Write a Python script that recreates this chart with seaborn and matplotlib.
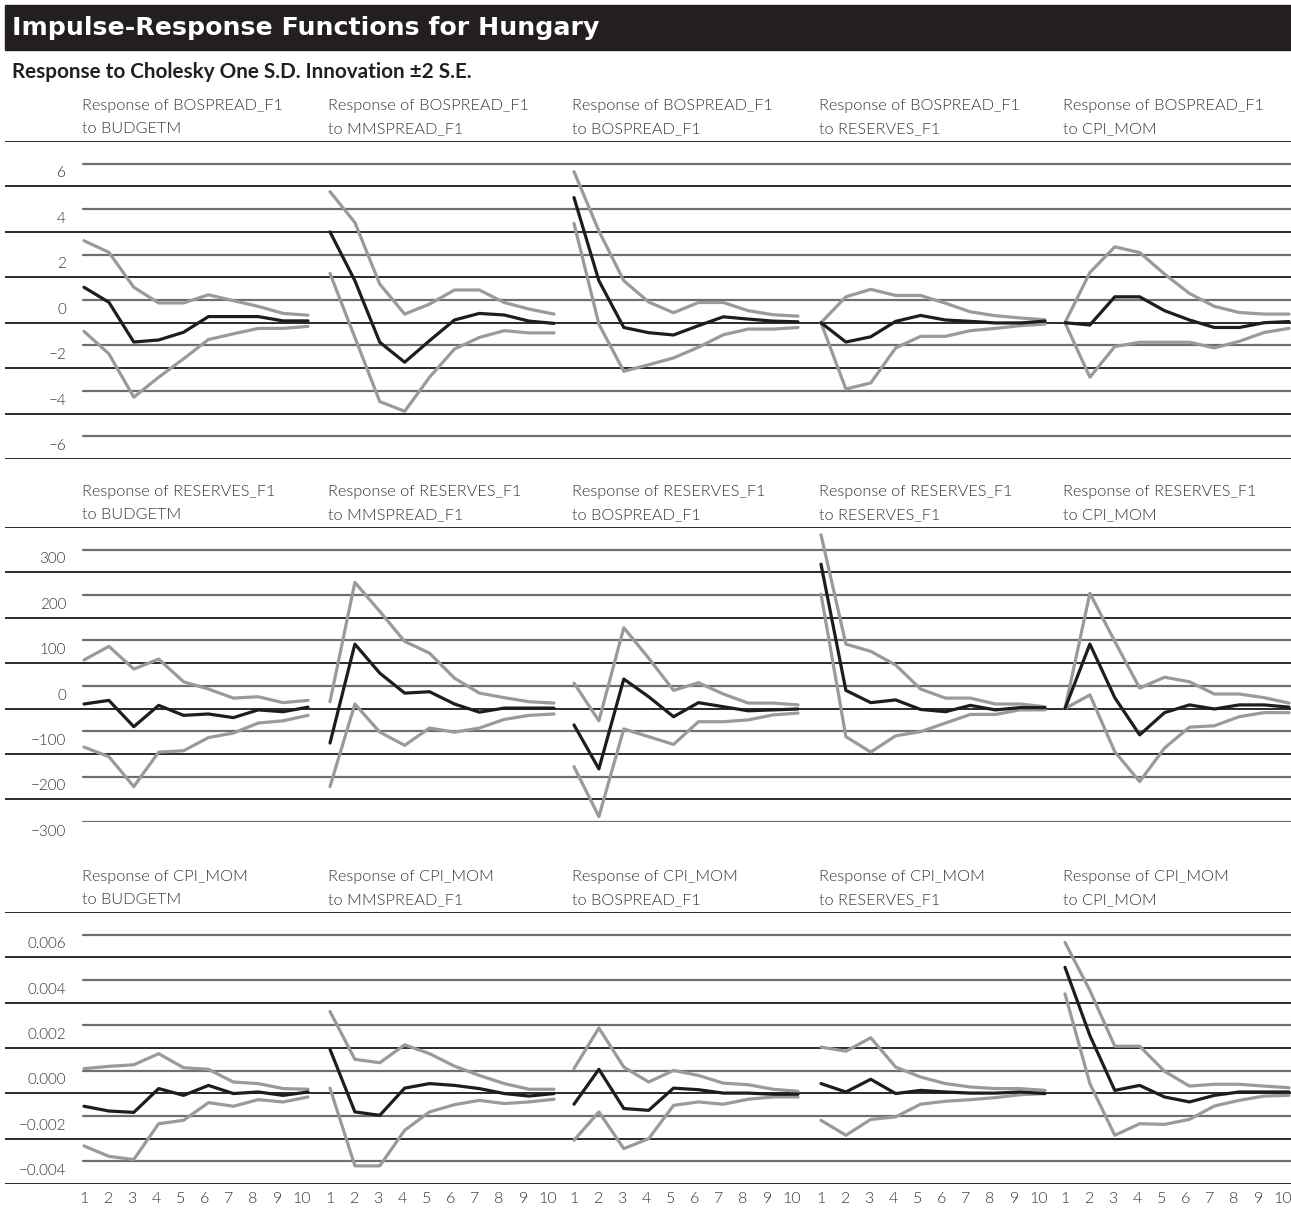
import numpy as np
import pandas as pd
import seaborn as sns
import matplotlib
matplotlib.use("Agg")
import matplotlib.pyplot as plt
from matplotlib.patches import Rectangle
from matplotlib.transforms import blended_transform_factory, offset_copy

# ---------------------------------------------------------------- data
periods = list(range(1, 11))
shocks = ["BUDGETM", "MMSPREAD_F1", "BOSPREAD_F1", "RESERVES_F1", "CPI_MOM"]
responses = ["BOSPREAD_F1", "RESERVES_F1", "CPI_MOM"]

# Response of BOSPREAD_F1
bos_bud = [1.56, 0.90, -0.85, -0.76, -0.42, 0.27, 0.27, 0.27, 0.08, 0.08]
bos_bud_up = [3.61, 3.10, 1.56, 0.87, 0.87, 1.23, 0.97, 0.72, 0.41, 0.33]
bos_bud_lo = [-0.38, -1.37, -3.28, -2.40, -1.59, -0.74, -0.49, -0.25, -0.25, -0.16]
bos_mms = [4.00, 1.85, -0.86, -1.74, -0.79, 0.12, 0.41, 0.34, 0.07, -0.03]
bos_mms_up = [5.77, 4.41, 1.70, 0.38, 0.82, 1.44, 1.44, 0.89, 0.60, 0.38]
bos_mms_lo = [2.17, -0.65, -3.47, -3.90, -2.40, -1.16, -0.65, -0.35, -0.45, -0.45]
bos_bos = [5.51, 1.85, -0.21, -0.44, -0.54, -0.13, 0.26, 0.16, 0.07, 0.04]
bos_bos_up = [6.65, 4.04, 1.85, 0.91, 0.44, 0.89, 0.89, 0.53, 0.35, 0.29]
bos_bos_lo = [4.37, -0.06, -2.14, -1.85, -1.55, -1.08, -0.53, -0.28, -0.28, -0.21]
bos_res = [0.0, -0.85, -0.62, 0.06, 0.32, 0.12, 0.06, -0.01, -0.01, 0.07]
bos_res_up = [0.0, 1.14, 1.47, 1.20, 1.20, 0.86, 0.48, 0.31, 0.21, 0.13]
bos_res_lo = [0.0, -2.92, -2.65, -1.11, -0.60, -0.60, -0.35, -0.25, -0.13, -0.06]
bos_cpi = [0.0, -0.10, 1.14, 1.14, 0.53, 0.12, -0.21, -0.21, 0.0, 0.05]
bos_cpi_up = [0.0, 2.21, 3.34, 3.09, 2.14, 1.29, 0.72, 0.45, 0.38, 0.38]
bos_cpi_lo = [0.0, -2.40, -1.05, -0.86, -0.86, -0.86, -1.11, -0.82, -0.43, -0.25]

# Response of RESERVES_F1
res_bud = [10, 18, -40, 7, -15, -12, -20, -3, -7, 3]
res_bud_up = [107, 137, 87, 109, 59, 43, 23, 26, 13, 18]
res_bud_lo = [-85, -106, -172, -96, -93, -64, -54, -32, -27, -15]
res_mms = [-76, 142, 78, 34, 37, 10, -8, 1, 1, 1]
res_mms_up = [15, 278, 214, 148, 122, 67, 34, 24, 15, 12]
res_mms_lo = [-172, 10, -52, -81, -43, -52, -43, -24, -15, -12]
res_bos = [-36, -133, 65, 26, -18, 13, 4, -5, -3, -1]
res_bos_up = [56, -27, 178, 111, 40, 57, 32, 12, 12, 8]
res_bos_lo = [-128, -238, -45, -62, -79, -29, -29, -25, -14, -10]
res_res = [318, 40, 13, 19, -2, -7, 7, -3, 2, 2]
res_res_up = [383, 142, 126, 96, 43, 23, 23, 10, 10, 4]
res_res_lo = [252, -62, -96, -60, -51, -32, -13, -13, -3, -3]
res_cpi = [0, 142, 24, -58, -9, 8, -1, 8, 8, 3]
res_cpi_up = [0, 254, 148, 45, 69, 59, 32, 32, 24, 12]
res_cpi_lo = [0, 30, -95, -161, -87, -41, -38, -18, -9, -9]

# Response of CPI_MOM
cpi_bud = [-0.00057, -0.00078, -0.00084, 0.00021, -0.00009, 0.00035, -0.00001, 0.00006, -0.00009, 0.00006]
cpi_bud_up = [0.00109, 0.00119, 0.00126, 0.00175, 0.00113, 0.00106, 0.00050, 0.00043, 0.00021, 0.00018]
cpi_bud_lo = [-0.00232, -0.00278, -0.00292, -0.00134, -0.00119, -0.00041, -0.00057, -0.00028, -0.00038, -0.00016]
cpi_mms = [0.00194, -0.00082, -0.00097, 0.00023, 0.00043, 0.00035, 0.00021, -0.00001, -0.00012, -0.00001]
cpi_mms_up = [0.00361, 0.00150, 0.00135, 0.00214, 0.00175, 0.00120, 0.00079, 0.00043, 0.00018, 0.00018]
cpi_mms_lo = [0.00023, -0.00320, -0.00320, -0.00163, -0.00082, -0.00050, -0.00031, -0.00045, -0.00038, -0.00026]
cpi_bos = [-0.00048, 0.00106, -0.00067, -0.00075, 0.00023, 0.00016, 0.00001, 0.00001, -0.00004, -0.00004]
cpi_bos_up = [0.00109, 0.00288, 0.00116, 0.00050, 0.00101, 0.00079, 0.00045, 0.00038, 0.00018, 0.00009]
cpi_bos_lo = [-0.00207, -0.00082, -0.00244, -0.00200, -0.00053, -0.00038, -0.00048, -0.00026, -0.00016, -0.00016]
cpi_res = [0.00043, 0.00006, 0.00062, -0.00001, 0.00013, 0.00006, 0.00001, 0.00001, 0.00006, -0.00001]
cpi_res_up = [0.00204, 0.00186, 0.00245, 0.00116, 0.00072, 0.00043, 0.00028, 0.00021, 0.00021, 0.00013]
cpi_res_lo = [-0.00119, -0.00185, -0.00115, -0.00104, -0.00048, -0.00035, -0.00028, -0.00019, -0.00006, -0.00001]
cpi_cpi = [0.00556, 0.00255, 0.00013, 0.00035, -0.00016, -0.00038, -0.00009, 0.00006, 0.00006, 0.00006]
cpi_cpi_up = [0.00666, 0.00454, 0.00208, 0.00208, 0.00097, 0.00032, 0.00040, 0.00040, 0.00032, 0.00025]
cpi_cpi_lo = [0.00439, 0.00043, -0.00185, -0.00134, -0.00137, -0.00115, -0.00056, -0.00031, -0.00012, -0.00009]

# axis ranges, gridline step and labelled values per response row
row_limits = [(-6, 8), (-250, 400), (-0.004, 0.008)]
row_steps = [1, 50, 0.001]
row_labels = [
    ["6", "4", "2", "0", "\u22122", "\u22124", "\u22126"],
    ["300", "200", "100", "0", "\u2212100", "\u2212200", "\u2212300"],
    ["0.006", "0.004", "0.002", "0.000", "\u22120.002", "\u22120.004"],
]
row_label_values = [
    [6, 4, 2, 0, -2, -4, -6],
    [300, 200, 100, 0, -100, -200, -300],
    [0.006, 0.004, 0.002, 0.0, -0.002, -0.004],
]

table = [
    [(bos_bud, bos_bud_up, bos_bud_lo), (bos_mms, bos_mms_up, bos_mms_lo),
     (bos_bos, bos_bos_up, bos_bos_lo), (bos_res, bos_res_up, bos_res_lo),
     (bos_cpi, bos_cpi_up, bos_cpi_lo)],
    [(res_bud, res_bud_up, res_bud_lo), (res_mms, res_mms_up, res_mms_lo),
     (res_bos, res_bos_up, res_bos_lo), (res_res, res_res_up, res_res_lo),
     (res_cpi, res_cpi_up, res_cpi_lo)],
    [(cpi_bud, cpi_bud_up, cpi_bud_lo), (cpi_mms, cpi_mms_up, cpi_mms_lo),
     (cpi_bos, cpi_bos_up, cpi_bos_lo), (cpi_res, cpi_res_up, cpi_res_lo),
     (cpi_cpi, cpi_cpi_up, cpi_cpi_lo)],
]

# ---------------------------------------------------------------- style
sns.set_style("white")
plt.rcParams["font.family"] = ["Lato", "DejaVu Sans"]
TEXT = "#333333"
LIGHT = 300

W, H = 1291, 1211
fig = plt.figure(figsize=(W / 100, H / 100), dpi=100)


def fx(px):
    return px / W


def fy(py):
    return 1 - py / H


# title bar
fig.patches.append(Rectangle((fx(5), fy(50)), fx(1286), 45 / H,
                             transform=fig.transFigure, color="#231f20", zorder=0))
fig.text(fx(12), fy(28), "Impulse-Response Functions for Hungary", color="white",
         fontsize=18.2, fontweight="bold", va="center", ha="left",
         family=["DejaVu Sans"])
fig.text(fx(12), fy(72), "Response to Cholesky One S.D. Innovation \u00b12 S.E.",
         color="#231f20", fontsize=14.9, fontweight="bold", va="center", ha="left")

panel_left = [84, 330, 574, 821, 1065]
panel_width = 224
row_top = [141, 527, 912]
row_bottom = [459, 822, 1184]
# tick labels run on a slightly tighter spacing than the plotted periods
tick_spread = 0.97

for r in range(3):
    top, bot = row_top[r], row_bottom[r]
    lo_lim, hi_lim = row_limits[r]
    step = row_steps[r]

    # background band with the horizontal rules running across the row
    bg = fig.add_axes([fx(5), fy(bot), fx(1286), (bot - top) / H], zorder=0)
    bg.set_ylim(lo_lim, hi_lim)
    bg.set_xlim(0, 1)
    bg.axis("off")
    n = int(round((hi_lim - lo_lim) / step))
    for k in range(n + 1):
        v = lo_lim + k * step
        major = int(round(v / step)) % 2 == 0
        if major:
            bg.axhline(v, xmin=0, xmax=1, color="#2b2b2b", lw=1.4, zorder=0)
        else:
            bg.axhline(v, xmin=(83 - 5) / 1286, xmax=1, color="#6e6e6e", lw=1.6, zorder=0)

    # value labels on the left
    lab_tr = offset_copy(blended_transform_factory(fig.transFigure, bg.transData),
                         fig=fig, x=0, y=13, units="dots")
    for val, txt in zip(row_label_values[r], row_labels[r]):
        fig.text(fx(66), val, txt, transform=lab_tr, ha="right", va="center",
                 fontsize=11, color=TEXT, fontweight=LIGHT)

    for c in range(5):
        ax = fig.add_axes([fx(panel_left[c]), fy(bot), fx(panel_width), (bot - top) / H],
                          zorder=2)
        ax.set_facecolor("none")
        resp, up, lo = table[r][c]
        df = pd.DataFrame({"period": periods, "resp": resp, "up": up, "lo": lo})
        for col, colr in (("up", "#9a9a9a"), ("lo", "#9a9a9a"), ("resp", "#1d1d1b")):
            sns.lineplot(data=df, x="period", y=col, ax=ax, color=colr, lw=2.3,
                         clip_on=False)
        ax.set_xlim(1, 10)
        ax.set_ylim(lo_lim, hi_lim)
        ax.set_xlabel("")
        ax.set_ylabel("")
        ax.set_yticks([])
        for s in ax.spines.values():
            s.set_visible(False)
        if r == 2:
            ax.set_xticks([1 + (p - 1) * tick_spread for p in periods])
            ax.set_xticklabels([str(p) for p in periods], fontsize=11.5, color=TEXT,
                               fontweight=LIGHT)
            ax.tick_params(axis="x", length=0, pad=6)
        else:
            ax.set_xticks([])

        # two-line panel heading
        t1 = offset_copy(ax.transAxes, fig=fig, x=-2, y=35, units="dots")
        t2 = offset_copy(ax.transAxes, fig=fig, x=-2, y=12, units="dots")
        ax.text(0, 1, f"Response of {responses[r]}", transform=t1, ha="left",
                va="center", fontsize=11.7, color=TEXT, fontweight=LIGHT)
        ax.text(0, 1, f"to {shocks[c]}", transform=t2, ha="left", va="center",
                fontsize=11.7, color=TEXT, fontweight=LIGHT)

fig.savefig("out.png", dpi=100, facecolor="white")
